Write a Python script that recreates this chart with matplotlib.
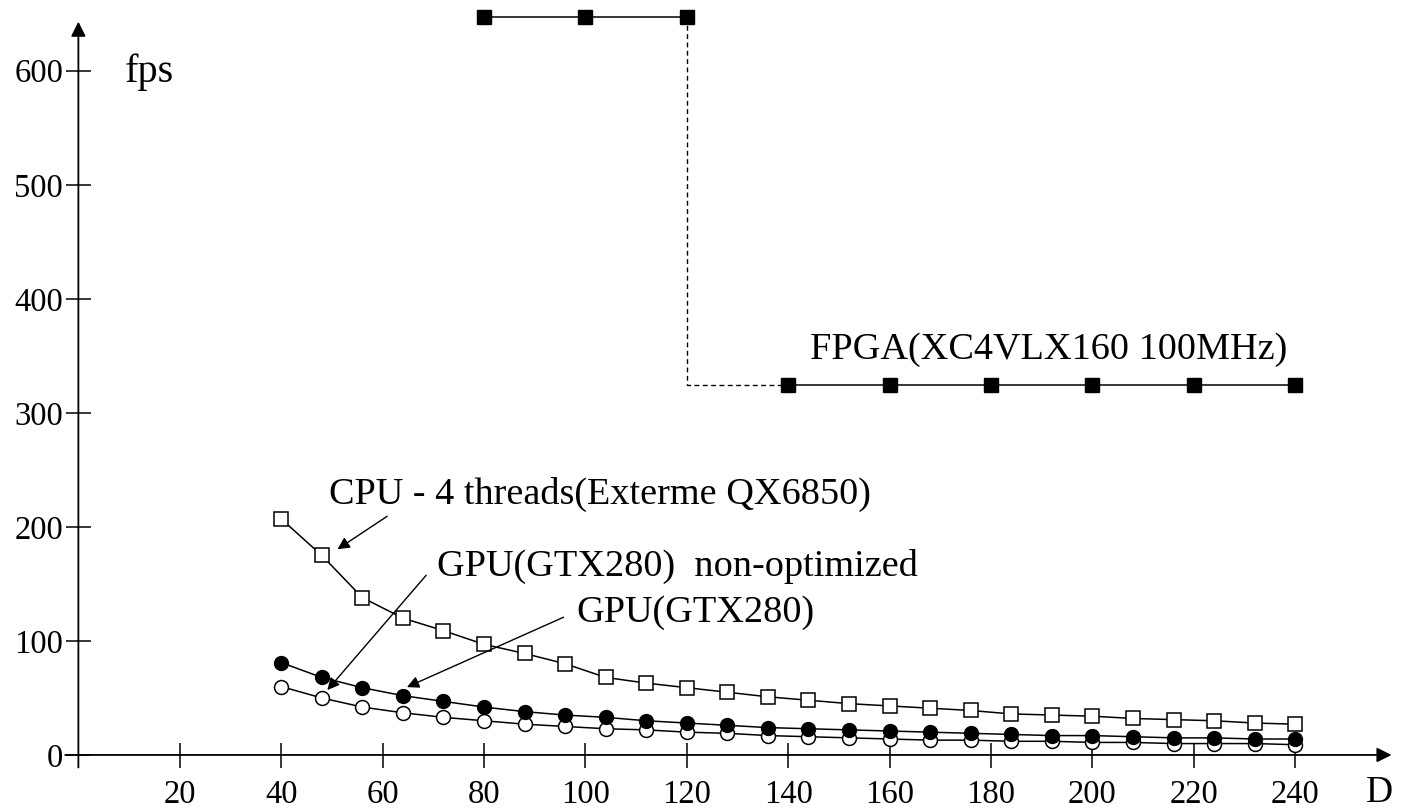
import numpy as np
import matplotlib
matplotlib.use("Agg")
import matplotlib.pyplot as plt

plt.rcParams['font.family'] = ['Liberation Serif', 'DejaVu Serif']

# D values
d_fpga_hi = [80, 100, 120]
fps_fpga_hi = [647, 647, 647]
d_fpga_lo = [140, 160, 180, 200, 220, 240]
fps_fpga_lo = [324, 324, 324, 324, 324, 324]

d = np.arange(40, 241, 8)
fps_cpu = [207, 175, 138, 120, 109, 97, 89, 80, 68, 63, 59, 55, 51,
           48, 45, 43, 41, 39, 36, 35, 34, 32, 31, 30, 28, 27]
fps_gpu = [81, 68, 59, 52, 47, 42, 38, 35, 33, 30, 28, 26, 24,
           23, 22, 21, 20, 19, 18, 17, 17, 16, 15, 15, 14, 14]
fps_gpu_nonopt = [60, 50, 42, 37, 33, 30, 27, 25, 23, 22, 20, 19, 17,
                  16, 15, 14, 13, 13, 12, 12, 11, 11, 10, 10, 10, 9]

xticks = list(range(20, 241, 20))
yticks = list(range(0, 601, 100))

fig = plt.figure(figsize=(14.02, 8.08), dpi=100)
ax = fig.add_axes([0, 0, 1, 1])
ax.set_xlim(-15.46, 261.06)
ax.set_ylim(-46.5, 662.0)

lw = 1.1
# FPGA
ax.plot(d_fpga_hi, fps_fpga_hi, '-s', color='k', lw=lw, ms=10.5, clip_on=False)
ax.plot(d_fpga_lo, fps_fpga_lo, '-s', color='k', lw=lw, ms=10.5, clip_on=False)
ax.plot([d_fpga_hi[-1], d_fpga_hi[-1], d_fpga_lo[0]],
        [fps_fpga_hi[-1], fps_fpga_lo[0], fps_fpga_lo[0]],
        color='k', lw=1.0, ls=(0, (3.5, 2.5)), zorder=1)

# CPU / GPU
ax.plot(d, fps_cpu, '-s', color='k', lw=lw, ms=10.5, mfc='white', mew=1.1)
ax.plot(d, fps_gpu_nonopt, '-o', color='k', lw=lw, ms=10, mfc='white', mew=1.1)
ax.plot(d, fps_gpu, '-o', color='k', lw=lw, ms=10)

# axes with arrows
for s in ax.spines.values():
    s.set_visible(False)
ax.spines['left'].set_position(('data', 0))
ax.spines['bottom'].set_position(('data', 0))
ax.annotate('', xy=(259, 0), xytext=(-2.6, 0),
            arrowprops=dict(arrowstyle='-|>', lw=1.3, color='k',
                            mutation_scale=22, shrinkA=0, shrinkB=0))
ax.annotate('', xy=(0, 643), xytext=(0, -11),
            arrowprops=dict(arrowstyle='-|>', lw=1.3, color='k',
                            mutation_scale=22, shrinkA=0, shrinkB=0))

ax.set_xticks(xticks)
ax.set_yticks(yticks)
ax.tick_params(axis='x', direction='inout', length=18, width=1.1, pad=9,
               labelsize=23.5)
ax.tick_params(axis='y', direction='inout', length=18, width=1.1, pad=2,
               labelsize=23.5)

ax.text(9.2, 590, 'fps', fontsize=29)
ax.text(254, -41, 'D', fontsize=27)

ax.text(144.3, 347, 'FPGA(XC4VLX160 100MHz)', fontsize=27.5)

arr = dict(arrowstyle='-|>', lw=1.0, color='k', mutation_scale=18,
           shrinkA=0, shrinkB=0)
ax.text(49.5, 220, 'CPU - 4 threads(Exterme QX6850)', fontsize=27.5)
ax.annotate('', xy=(51.1, 180.4), xytext=(60.9, 209.3), arrowprops=arr)
ax.text(70.7, 157, 'GPU(GTX280)  non-optimized', fontsize=27.5)
ax.annotate('', xy=(49.1, 56.9), xytext=(68.6, 157.6), arrowprops=arr)
ax.text(98.3, 117, 'GPU(GTX280)', fontsize=27.5)
ax.annotate('', xy=(64.8, 59.5), xytext=(95.7, 120.8), arrowprops=arr)

fig.savefig('out.png', dpi=100)
